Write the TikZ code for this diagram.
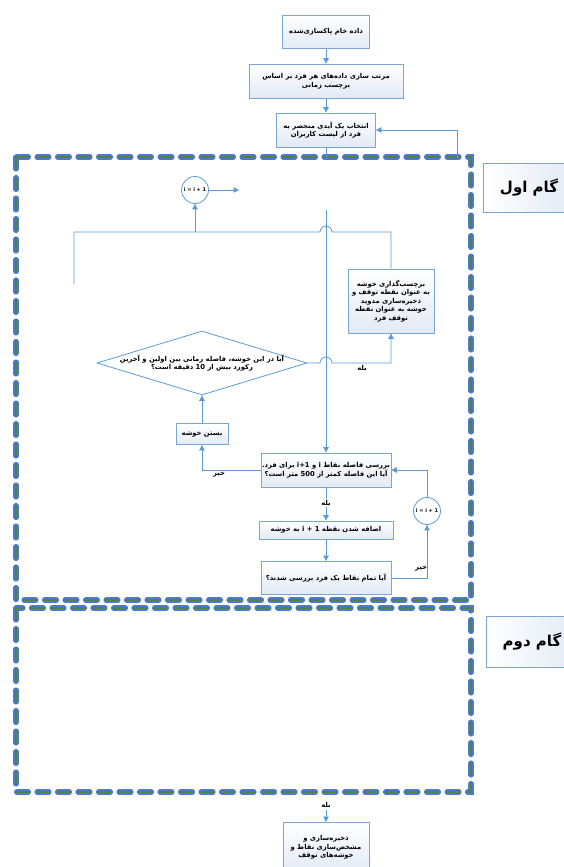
\documentclass[tikz,border=0pt]{standalone}
\usepackage{fontspec}
\usepackage{xcolor}
\usepackage{tikz}
\usetikzlibrary{shapes.geometric,arrows.meta}
\newfontfamily\fa[Script=Arabic]{DejaVu Sans}
\TeXXeTstate=1
\newcommand\rl[1]{\beginR#1\endR}
\definecolor{flowblue}{RGB}{91,155,213}
\definecolor{boxline}{RGB}{125,165,210}
\definecolor{boxfill}{RGB}{226,234,245}
\definecolor{frameblue}{RGB}{72,122,212}
\definecolor{framegreen}{RGB}{88,128,58}

\begin{document}
\begin{tikzpicture}[x=1pt,y=-1pt,line width=0.8pt,draw=flowblue,>={Triangle[length=5.5pt,width=5.5pt]},
  box/.style={rectangle,draw=boxline,top color=white,bottom color=boxfill,inner sep=1pt,align=center,font=\fa\bfseries\fontsize{6.8}{8.6}\selectfont},
  steplabel/.style={rectangle,draw=boxline,left color=white,right color=boxfill,font=\fa\bfseries\fontsize{15}{17}\selectfont},
  inc/.style={circle,draw=flowblue,fill=white,minimum size=27pt,inner sep=0pt,font=\fa\bfseries\fontsize{5}{6}\selectfont},
  txt/.style={inner sep=1pt,font=\fa\bfseries\fontsize{6.8}{8.4}\selectfont},
  frame/.style={draw=frameblue,double=framegreen,double distance=1.5pt,line width=1.8pt,line cap=round,dash pattern=on 12pt off 8.5pt}]
\useasboundingbox (0,0) rectangle (563,867);

\draw[frame] (16,157) rectangle (471,600);
\draw[frame] (16,608) rectangle (471,792);
\node (gam1)[steplabel,minimum width=92pt,minimum height=49pt] at (529,188) {\rl{گام اول}};
\node (gam2)[steplabel,minimum width=92pt,minimum height=51pt] at (532,642) {\rl{گام دوم}};

\node (raw)[box,minimum width=87pt,minimum height=33pt] at (326,32) {\rl{داده خام پاکسازی‌شده}};
\node (sort)[box,minimum width=154pt,minimum height=34pt] at (326,81) {\rl{مرتب سازی داده‌های هر فرد بر اساس}\\\rl{برچسب زمانی}};
\node (pick)[box,minimum width=99pt,minimum height=34pt] at (326,130) {\rl{انتخاب یک آیدی منحصر به}\\\rl{فرد از لیست کاربران}};

\draw[->] (raw) -- (sort);
\draw[->] (sort) -- (pick);
\coordinate (in1) at (326,158);
\draw (pick) -- (in1);
\coordinate (fb) at (457,158);
\draw[->] (fb) |- (pick.east);

\node (inc1)[inc] at (195,190) {i = i + 1};
\coordinate (out1) at (239,190);
\draw[->] (inc1) -- (out1);

\node (lab)[box,minimum width=86pt,minimum height=64pt] at (391,301) {\rl{برچسب‌گذاری خوشه}\\\rl{به عنوان نقطه توقف و}\\\rl{ذخیره‌سازی مدوید}\\\rl{خوشه به عنوان نقطه}\\\rl{توقف فرد}};
\node (ask)[diamond,draw=flowblue,fill=white,minimum width=210pt,minimum height=64pt,inner sep=0pt] at (202,363) {};
\node[txt,align=center] at (ask) {\rl{آیا در این خوشه، فاصله زمانی بین اولین و آخرین}\\\rl{رکورد بیش از \beginL10\endL{} دقیقه است؟}};
\node (shut)[box,minimum width=52pt,minimum height=21pt] at (202,434) {\rl{بستن خوشه}};
\node (chk)[box,minimum width=128pt,minimum height=34pt] at (326,470) {\rl{بررسی فاصله نقاط \beginL i\endL{} و \beginL i+1\endL{} برای فرد.}\\\rl{آیا این فاصله کمتر از \beginL500\endL{} متر است؟}};
\node (add)[box,minimum width=134pt,minimum height=18pt] at (326,530) {\rl{اضافه شدن نقطه \beginL i + 1\endL{} به خوشه}};
\node (done)[box,minimum width=130pt,minimum height=33pt] at (326,578) {\rl{آیا تمام نقاط یک فرد بررسی شدند؟}};
\node (inc2)[inc] at (427,511) {i = i + 1};

\coordinate (lft) at (74,284);
\coordinate (J1) at (195,232);
\coordinate (top) at (326,210);
\draw (lft) -- (74,232) -- (320,232) arc (180:360:6) -- (391,232) -- (lab.north);
\draw[->] (J1) -- (inc1);
\draw[->] (top) -- (chk);

\draw[->] (ask.east) -- (320,363) arc (180:360:6) -- (391,363) -- (lab.south);
\node (yes1)[txt] at (362,369) {\rl{بله}};
\draw[->] (shut) -- (ask.south);
\draw[->] (chk.west) -| (shut.south);
\node (no1)[txt] at (219,475) {\rl{خیر}};

\draw[->] (chk) -- (add);
\node (yes2)[txt,fill=white] at (326,503) {\rl{بله}};
\draw[->] (add) -- (done);
\draw[->] (done.east) -| (inc2.south);
\draw[->] (inc2.north) |- (chk.east);
\node (no2)[txt] at (421,569) {\rl{خیر}};

\node (yes3)[txt] at (326,805) {\rl{بله}};
\node (save)[box,anchor=north,minimum width=86pt,minimum height=50pt] at (326,822) {\rl{ذخیره‌سازی و}\\\rl{مشخص‌سازی نقاط و}\\\rl{خوشه‌های توقف}};
\draw[->] (yes3) -- (save);
\end{tikzpicture}
\end{document}
